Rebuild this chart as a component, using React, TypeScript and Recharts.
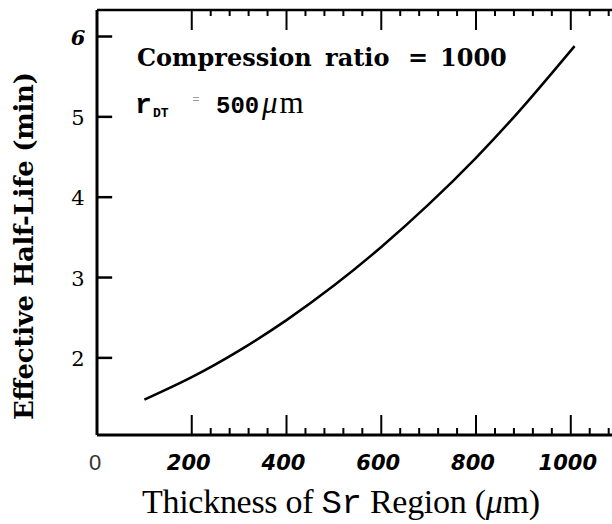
import React from "react";
import { LineChart, Line, XAxis, YAxis, ReferenceLine, Customized } from "recharts";

// values
const thickness = [100, 200, 300, 400, 500, 600, 700, 800, 900, 1008];
const halfLife = [1.48, 1.76, 2.09, 2.47, 2.9, 3.38, 3.91, 4.49, 5.13, 5.88];

const xLabelTicks = [0, 200, 400, 600, 800, 1000];
const xMajorTicks = [200, 400, 600, 800, 1000];
const xMinorTicks = [240, 280, 320, 360, 440, 480, 520, 560, 640, 680, 720, 760, 840, 880, 920, 960, 1040, 1080];
const yTicks = [2, 3, 4, 5, 6];

const X_DOMAIN = [0, 1087];
const Y_DOMAIN = [1.04, 6.33];
const PLOT_TOP = 10;
const Y_TICK_LEN = 32; // in x units, about 15px

const data = thickness.map((t, i) => ({ t, h: halfLife[i] }));
const allXTicks = Array.from(new Set([...xLabelTicks, ...xMajorTicks, ...xMinorTicks])).sort((a, b) => a - b);

// bottom axis ticks point inwards, the frame's top edge gets the same ticks
const BottomTick = (props: any) => {
    const { x, y, payload } = props;
    const v = payload.value;
    const major = xMajorTicks.includes(v);
    const minor = xMinorTicks.includes(v);
    return (
        <g>
            {(major || minor) && <line x1={x} x2={x} y1={y} y2={y - (major ? 20 : 7)} stroke="#000" strokeWidth={2} />}
            {(major || minor) && <line x1={x} x2={x} y1={PLOT_TOP} y2={PLOT_TOP + (major ? 20 : 6)} stroke="#000" strokeWidth={2} />}
            {v === 0 && (
                <text x={x - 2} y={y + 35} textAnchor="middle" fontFamily="Liberation Sans" fontSize={22} fill="#333">
                    0
                </text>
            )}
            {v !== 0 && xLabelTicks.includes(v) && (
                <text x={x - 3} y={y + 35} textAnchor="middle" fontFamily="DejaVu Sans" fontWeight="bold" fontStyle="italic" fontSize={21} fill="#000">
                    {v}
                </text>
            )}
        </g>
    );
};

const YTick = (props: any) => {
    const { x, y, payload } = props;
    const six = payload.value === 6;
    return (
        <text
            x={x - 19}
            y={y + 8}
            textAnchor="middle"
            fontFamily="DejaVu Serif"
            fontSize={21}
            fontWeight={six ? "bold" : "normal"}
            fontStyle={six ? "italic" : "normal"}
            fill="#000"
        >
            {payload.value}
        </text>
    );
};

const Annotations = () => (
    <g fill="#000">
        <text y={66} fontFamily="DejaVu Serif" fontWeight="bold" fontSize={24}>
            <tspan x={137}>Compression</tspan>
            <tspan x={325}>ratio</tspan>
            <tspan x={408}>=</tspan>
            <tspan x={440}>1000</tspan>
        </text>
        <text x={135} y={113} fontFamily="Liberation Mono" fontWeight="bold" fontSize={28}>r</text>
        <text x={153} y={117} fontFamily="Liberation Mono" fontWeight="bold" fontSize={13}>DT</text>
        <text x={196} y={103} textAnchor="middle" fontFamily="Liberation Sans" fontSize={12} fill="#999">=</text>
        <text x={216} y={113} fontFamily="Liberation Mono" fontWeight="bold" fontSize={24}>500</text>
        <text x={262} y={113} fontFamily="Liberation Serif" fontSize={31} letterSpacing={2}>
            <tspan fontStyle="italic">μ</tspan>m
        </text>
        <text
            transform="translate(33,246) rotate(-90)"
            textAnchor="middle"
            fontFamily="DejaVu Serif"
            fontWeight="bold"
            fontSize={26}
            textLength={348}
            lengthAdjust="spacing"
        >
            Effective Half-Life (min)
        </text>
        <text x={142} y={513} fontFamily="Liberation Serif" fontSize={34} textLength={398} lengthAdjust="spacing">
            Thickness of <tspan fontFamily="Liberation Mono">Sr</tspan> Region (<tspan fontStyle="italic">μ</tspan>m)
        </text>
    </g>
);

export default function App() {
    return (
        <div style={{ position: "absolute", left: 0, top: 0, background: "#fff" }}>
            <LineChart width={612} height={524} data={data} margin={{ top: PLOT_TOP - 1, right: 0, bottom: 0, left: 0 }}>
                <XAxis
                    xAxisId="x"
                    dataKey="t"
                    type="number"
                    domain={X_DOMAIN}
                    ticks={allXTicks}
                    interval={0}
                    height={89}
                    tickSize={0}
                    tickMargin={0}
                    tickLine={false}
                    axisLine={{ stroke: "#000", strokeWidth: 3 }}
                    tick={<BottomTick />}
                    allowDataOverflow
                />
                <XAxis
                    xAxisId="top"
                    orientation="top"
                    type="number"
                    domain={X_DOMAIN}
                    height={1}
                    tick={false}
                    tickLine={false}
                    axisLine={{ stroke: "#000", strokeWidth: 2.5 }}
                    allowDataOverflow
                />
                <YAxis
                    yAxisId="y"
                    type="number"
                    domain={Y_DOMAIN}
                    ticks={yTicks}
                    interval={0}
                    width={97}
                    tickSize={0}
                    tickMargin={0}
                    tickLine={false}
                    axisLine={{ stroke: "#000", strokeWidth: 3 }}
                    tick={<YTick />}
                    allowDataOverflow
                />
                {yTicks.map((v) => (
                    <ReferenceLine
                        key={v}
                        xAxisId="x"
                        yAxisId="y"
                        segment={[{ x: X_DOMAIN[0], y: v }, { x: Y_TICK_LEN, y: v }]}
                        stroke="#000"
                        strokeWidth={2.5}
                        ifOverflow="visible"
                    />
                ))}
                <Line
                    xAxisId="x"
                    yAxisId="y"
                    dataKey="h"
                    type="natural"
                    stroke="#000"
                    strokeWidth={2.5}
                    dot={false}
                    isAnimationActive={false}
                />
                <Customized component={Annotations} />
            </LineChart>
        </div>
    );
}
